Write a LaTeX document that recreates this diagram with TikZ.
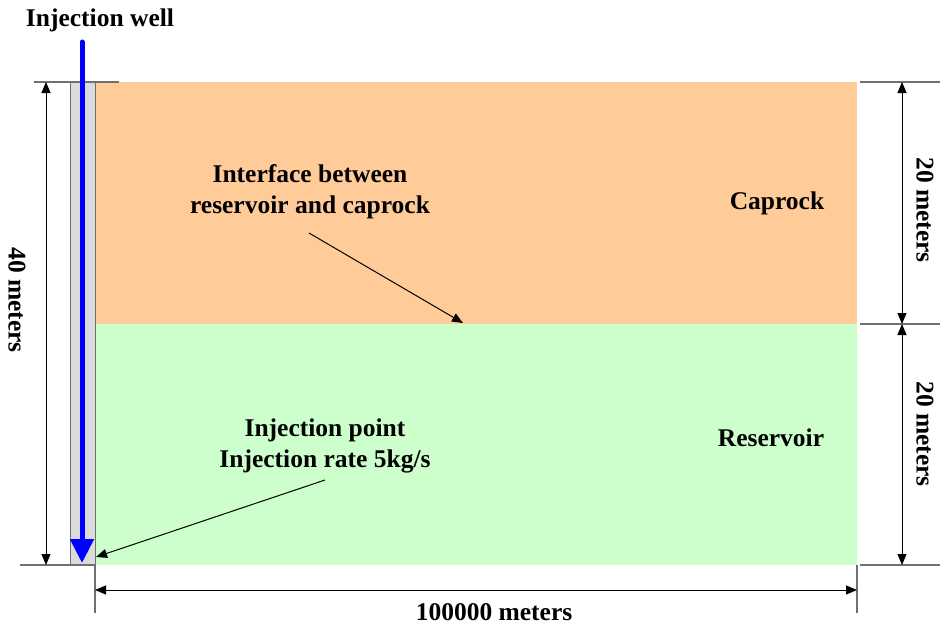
\documentclass[tikz,border=0pt]{standalone}
\usepackage{fontspec}
\setmainfont{Liberation Serif}
\usetikzlibrary{arrows.meta}
\definecolor{caprockc}{HTML}{FFCC99}
\definecolor{reservc}{HTML}{CCFFCC}
\definecolor{wellc}{HTML}{DCDCDC}
\definecolor{extc}{HTML}{707070}
\begin{document}
\begin{tikzpicture}[x=1pt,y=-1pt,
  lbl/.style={font=\bfseries\fontsize{25.5}{31}\selectfont, align=center, inner sep=0pt},
  ext/.style={draw=extc, line width=1.2pt},
  dim/.style={draw=black, line width=1pt, {Triangle[length=11pt,width=9pt]}-{Triangle[length=11pt,width=9pt]}},
  ptr/.style={draw=black, line width=1pt, -{Triangle[length=11pt,width=9pt]}}]
\useasboundingbox (0,0) rectangle (940,626);
% layers
\fill[caprockc] (95,82) rectangle (857,324);
\fill[reservc] (95,324) rectangle (857,565);
% well
\draw[draw=extc, fill=wellc, line width=1pt] (70,82) rectangle (95,565);
% extension lines
\draw[ext] (34,82) -- (119,82);
\draw[ext] (20,565) -- (95,565);
\draw[ext] (95,565) -- (95,613);
\draw[ext] (857,565) -- (857,613);
\draw[ext] (860,82) -- (940,82);
\draw[ext] (860,324) -- (940,324);
\draw[ext] (860,565) -- (940,565);
% coordinates
\coordinate (l40t) at (46,82);
\coordinate (l40b) at (46,565);
\coordinate (r1t) at (902,82);
\coordinate (r1b) at (902,324);
\coordinate (r2b) at (902,565);
\coordinate (bl) at (95,590);
\coordinate (br) at (857,590);
% dimension arrows
\draw[dim] (l40t) -- (l40b);
\draw[dim] (r1t) -- (r1b);
\draw[dim] (r1b) -- (r2b);
\draw[dim] (bl) -- (br);
% injection well arrow
\coordinate (wtop) at (82,42);
\coordinate (wbot) at (82,563);
\draw[draw=blue, line width=5pt, line cap=round, -{Triangle[length=24pt,width=23pt]}] (wtop) -- (wbot);
% labels
\node[lbl] (wellname) at (100,20) {Injection well};
\node[lbl, rotate=-90] (d40) at (17,300) {40 meters};
\node[lbl, rotate=-90] (d20a) at (925,210) {20 meters};
\node[lbl, rotate=-90] (d20b) at (925,434) {20 meters};
\node[lbl] (d100k) at (494,612) {100000 meters};
\node[lbl] (cap) at (777,203) {Caprock};
\node[lbl] (res) at (771,438) {Reservoir};
\node[lbl] (iface) at (310,192) {Interface between\\reservoir and caprock};
\node[lbl] (inj) at (325,446) {Injection point\\Injection rate 5kg/s};
\coordinate (ifs) at (309,233);
\coordinate (ife) at (463,323);
\coordinate (ins) at (325,480);
\coordinate (ine) at (96,557);
\draw[ptr] (ifs) -- (ife);
\draw[ptr] (ins) -- (ine);
\end{tikzpicture}
\end{document}
